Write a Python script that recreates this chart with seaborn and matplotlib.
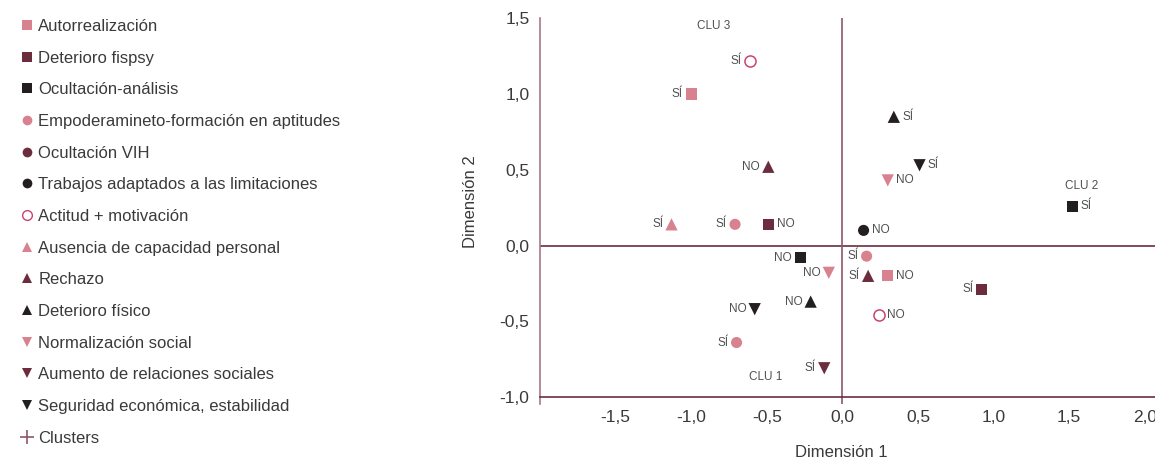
import numpy as np
import pandas as pd
import matplotlib.pyplot as plt
from matplotlib.lines import Line2D
import seaborn as sns

# ── data ─────────────────────────────────────────────────────────────────────
categories = [
    "Autorrealización",
    "Deterioro fispsy",
    "Ocultación-análisis",
    "Empoderamineto-formación en aptitudes",
    "Ocultación VIH",
    "Trabajos adaptados a las limitaciones",
    "Actitud + motivación",
    "Ausencia de capacidad personal",
    "Rechazo",
    "Deterioro físico",
    "Normalización social",
    "Aumento de relaciones sociales",
    "Seguridad económica, estabilidad",
]

point_cat = [
    "Actitud + motivación", "Autorrealización", "Rechazo",
    "Ausencia de capacidad personal", "Empoderamineto-formación en aptitudes",
    "Deterioro fispsy", "Ocultación-análisis", "Normalización social",
    "Deterioro físico", "Seguridad económica, estabilidad",
    "Empoderamineto-formación en aptitudes", "Aumento de relaciones sociales",
    "Deterioro físico", "Seguridad económica, estabilidad",
    "Normalización social", "Ocultación-análisis",
    "Trabajos adaptados a las limitaciones",
    "Empoderamineto-formación en aptitudes", "Rechazo", "Autorrealización",
    "Deterioro fispsy", "Actitud + motivación",
]
point_x = [-0.61, -1.00, -0.49, -1.13, -0.71, -0.49, -0.28, -0.09, -0.21, -0.58,
           -0.70, -0.12, 0.34, 0.51, 0.30, 1.52, 0.14, 0.16, 0.17, 0.30, 0.92, 0.24]
point_y = [1.22, 1.00, 0.52, 0.14, 0.14, 0.14, -0.08, -0.18, -0.37, -0.42,
           -0.64, -0.81, 0.85, 0.53, 0.43, 0.26, 0.10, -0.07, -0.20, -0.20, -0.29, -0.46]
point_answer = ["SÍ", "SÍ", "NO", "SÍ", "SÍ", "NO", "NO", "NO", "NO", "NO",
                "SÍ", "SÍ", "SÍ", "SÍ", "NO", "SÍ", "NO", "SÍ", "SÍ", "NO", "SÍ", "NO"]
label_side = ["l", "l", "l", "l", "l", "r", "l", "l", "l", "l",
              "l", "l", "r", "r", "r", "r", "r", "l", "l", "r", "l", "r"]

clusters = ["CLU 1", "CLU 2", "CLU 3"]
cluster_x = [-0.51, 1.58, -0.85]
cluster_y = [-0.87, 0.39, 1.45]

x_ticks = [-2.0, -1.5, -1.0, -0.5, 0.0, 0.5, 1.0, 1.5, 2.0]
y_ticks = [-1.0, -0.5, 0.0, 0.5, 1.0, 1.5]

# ── styles ───────────────────────────────────────────────────────────────────
PINK, MAROON, BLACK, HOLLOW = "#d9828f", "#6b2d3e", "#231f20", "#c9436f"
cat_colors = [PINK, MAROON, BLACK, PINK, MAROON, BLACK, HOLLOW,
              PINK, MAROON, BLACK, PINK, MAROON, BLACK]
cat_markers = ["s", "s", "s", "o", "o", "o", "o", "^", "^", "^", "v", "v", "v"]
TEXT = "#3a3a3a"

sns.set_style("white")
plt.rcParams["font.family"] = ["Liberation Sans", "DejaVu Sans"]

df = pd.DataFrame({"cat": point_cat, "x": point_x, "y": point_y,
                   "answer": point_answer, "side": label_side})

fig = plt.figure(figsize=(11.55, 4.61), dpi=100)
ax = fig.add_axes([0.4675, 0.1236, 0.5368, 0.8367])

ax.axhline(0, color=MAROON, lw=1.2, zorder=1)
ax.axvline(0, color="#8f5668", lw=1.2, zorder=1)

for cat, col, mk in zip(categories, cat_colors, cat_markers):
    sub = df[df["cat"] == cat]
    if sub.empty:
        continue
    hollow = cat == "Actitud + motivación"
    size = 78 if mk in ("^", "v") else 64
    sns.scatterplot(data=sub, x="x", y="y", marker=mk, s=size,
                    color="white" if hollow else col,
                    edgecolor=col if hollow else "none",
                    linewidth=1.1 if hollow else 0,
                    ax=ax, zorder=3, legend=False)

for _, r in df.iterrows():
    left = r["side"] == "l"
    ax.annotate(r["answer"], (r["x"], r["y"]), xytext=(-6 if left else 6, 0),
                textcoords="offset points", ha="right" if left else "left",
                va="center", fontsize=8.5, color="#505050")

for name, cx, cy in zip(clusters, cluster_x, cluster_y):
    ax.text(cx, cy, name, ha="center", va="center", fontsize=8.5, color="#505050")

ax.set_xlim(-2.0, 2.1)
ax.set_ylim(-1.046, 1.5)
ax.set_xticks(x_ticks)
ax.set_xticklabels(["" if v == -2.0 else f"{v:.1f}".replace(".", ",") for v in x_ticks])
ax.set_yticks(y_ticks)
ax.set_yticklabels([f"{v:.1f}".replace(".", ",") for v in y_ticks])
ax.set_xlabel("")
ax.set_ylabel("")

for s in ("top", "right"):
    ax.spines[s].set_visible(False)
ax.spines["bottom"].set_position(("data", -1.0))
ax.spines["bottom"].set_color(MAROON)
ax.spines["bottom"].set_linewidth(1.2)
ax.spines["left"].set_color("#a5788a")
ax.spines["left"].set_linewidth(1.2)
ax.tick_params(axis="x", direction="out", length=5.5, width=1.2, color="#b58e9a",
               labelsize=12.5, labelcolor=TEXT, pad=4)
ax.tick_params(axis="y", direction="out", length=6, width=1.2, color="#a5788a",
               labelsize=12.5, labelcolor=TEXT, pad=1.5)

fig.text(0.728, 0.0195, "Dimensión 1", ha="center", va="center", fontsize=12, color=TEXT)
fig.text(0.407, 0.562, "Dimensión 2", ha="center", va="center", rotation=90,
         fontsize=12, color=TEXT)

# legend built by hand, one handle per category plus the clusters cross
handles = []
for cat, col, mk in zip(categories, cat_colors, cat_markers):
    hollow = cat == "Actitud + motivación"
    handles.append(Line2D([], [], linestyle="none", marker=mk, markersize=7,
                          markerfacecolor="white" if hollow else col,
                          markeredgecolor=col, markeredgewidth=1.0 if hollow else 0))
handles.append(Line2D([], [], linestyle="none", marker="+", markersize=10,
                      markeredgecolor="#8f5668", markeredgewidth=1.2))
fig.legend(handles, categories + ["Clusters"], loc="upper left",
           bbox_to_anchor=(0.018, 0.959), frameon=False, fontsize=12,
           handlelength=0.7, handletextpad=0.35, labelspacing=1.0,
           borderpad=0, borderaxespad=0, labelcolor=TEXT)

fig.savefig("out.png", dpi=100)
